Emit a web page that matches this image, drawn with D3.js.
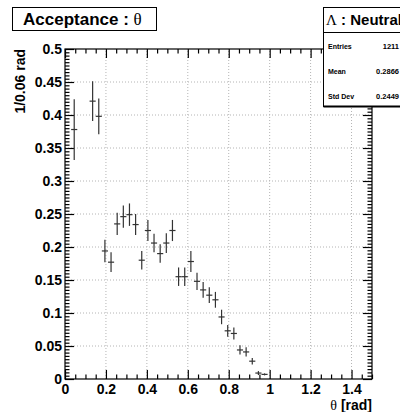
<!DOCTYPE html>
<html>
<head>
<meta charset="utf-8">
<script src="https://cdn.jsdelivr.net/npm/d3@7"></script>
<style>
  body { margin: 0; background: #fff; }
  svg text { font-family: "Liberation Sans", Arial, Helvetica, sans-serif; }
  .serif { font-family: "Liberation Serif", "DejaVu Serif", serif; font-weight: normal; }
</style>
</head>
<body>
<div id="chart"></div>
<script>
// bin centres (rad), bin width 0.03 -- empty bins are left out
const theta = [0.045, 0.135, 0.165, 0.195, 0.225, 0.255, 0.285, 0.315, 0.345, 0.375,
               0.405, 0.435, 0.465, 0.495, 0.525, 0.555, 0.585, 0.615, 0.645, 0.675,
               0.705, 0.735, 0.765, 0.795, 0.825, 0.855, 0.885, 0.915, 0.945, 0.975];
const acceptance = [0.378, 0.421, 0.398, 0.194, 0.177, 0.235, 0.246, 0.249, 0.234, 0.180,
                    0.225, 0.206, 0.190, 0.206, 0.225, 0.155, 0.155, 0.178, 0.148, 0.135,
                    0.127, 0.120, 0.094, 0.073, 0.069, 0.044, 0.041, 0.027, 0.009, 0.007];
const errors = [0.046, 0.030, 0.027, 0.017, 0.015, 0.017, 0.017, 0.017, 0.016, 0.014,
                0.016, 0.014, 0.014, 0.015, 0.016, 0.014, 0.014, 0.016, 0.013, 0.012,
                0.012, 0.012, 0.011, 0.009, 0.009, 0.007, 0.007, 0.005, 0.003, 0.0015];
const binWidth = 0.03;

const xTicks = [0, 0.2, 0.4, 0.6, 0.8, 1, 1.2, 1.4];
const yTicks = [0, 0.05, 0.1, 0.15, 0.2, 0.25, 0.3, 0.35, 0.4, 0.45, 0.5];
const statLabels = ["Entries", "Mean", "Std Dev"];
const statValues = ["1211", "0.2866", "0.2449"];

const W = 400, H = 412;
const svg = d3.select('#chart').append('svg')
  .attr('width', W).attr('height', H);

const x = d3.scaleLinear().domain([0, 1.5]).range([65, 372]);
const y = d3.scaleLinear().domain([0, 0.5]).range([379, 49]);

const fmt = d => String(+d.toFixed(2));
const xMinor = d3.range(0, 1.5001, 0.05).map(v => +v.toFixed(2)).filter(v => !xTicks.includes(v));
const yMinor = d3.range(0, 0.5001, 0.005).map(v => +v.toFixed(3)).filter(v => !yTicks.includes(v));

// grid
const grid = svg.append('g').attr('stroke', '#b4b4b4').attr('stroke-dasharray', '1,2').attr('stroke-width', 1);
xTicks.filter(v => v > 0).forEach(v => {
  grid.append('line').attr('x1', x(v)).attr('x2', x(v)).attr('y1', y(0)).attr('y2', y(0.5));
});
yTicks.filter(v => v > 0 && v < 0.5).forEach(v => {
  grid.append('line').attr('x1', x(0)).attr('x2', x(1.5)).attr('y1', y(v)).attr('y2', y(v));
});

// frame
svg.append('rect')
  .attr('x', x(0)).attr('y', y(0.5))
  .attr('width', x(1.5) - x(0)).attr('height', y(0) - y(0.5))
  .attr('fill', 'none').attr('stroke', '#000').attr('stroke-width', 1.2);

function styleAxis(g) {
  g.select('.domain').remove();
  g.selectAll('line').attr('stroke', '#000').attr('stroke-width', 1.2);
  g.selectAll('text').attr('font-size', 14).attr('font-weight', 'bold').attr('fill', '#000');
}

// bottom axis
svg.append('g').attr('transform', `translate(0,${y(0)})`)
  .call(d3.axisBottom(x).tickValues(xTicks).tickSize(-9).tickPadding(5).tickFormat(fmt))
  .call(styleAxis);
svg.append('g').attr('transform', `translate(0,${y(0)})`)
  .call(d3.axisBottom(x).tickValues(xMinor).tickSize(-4.5).tickFormat(''))
  .call(styleAxis);
// top axis
svg.append('g').attr('transform', `translate(0,${y(0.5)})`)
  .call(d3.axisTop(x).tickValues(xTicks).tickSize(-9).tickFormat(''))
  .call(styleAxis);
svg.append('g').attr('transform', `translate(0,${y(0.5)})`)
  .call(d3.axisTop(x).tickValues(xMinor).tickSize(-4.5).tickFormat(''))
  .call(styleAxis);
// left axis
svg.append('g').attr('transform', `translate(${x(0)},0)`)
  .call(d3.axisLeft(y).tickValues(yTicks).tickSize(-9).tickPadding(3).tickFormat(fmt))
  .call(styleAxis);
svg.append('g').attr('transform', `translate(${x(0)},0)`)
  .call(d3.axisLeft(y).tickValues(yMinor).tickSize(-4.5).tickFormat(''))
  .call(styleAxis);
// right axis
svg.append('g').attr('transform', `translate(${x(1.5)},0)`)
  .call(d3.axisRight(y).tickValues(yTicks).tickSize(-9).tickFormat(''))
  .call(styleAxis);
svg.append('g').attr('transform', `translate(${x(1.5)},0)`)
  .call(d3.axisRight(y).tickValues(yMinor).tickSize(-4.5).tickFormat(''))
  .call(styleAxis);

// data points with error bars
const pts = svg.append('g').attr('stroke', '#333').attr('stroke-width', 1.2);
theta.forEach((t, i) => {
  const v = acceptance[i], e = errors[i];
  pts.append('line')
    .attr('x1', x(t - binWidth / 2)).attr('x2', x(t + binWidth / 2))
    .attr('y1', y(v)).attr('y2', y(v));
  pts.append('line')
    .attr('x1', x(t)).attr('x2', x(t))
    .attr('y1', y(v - e)).attr('y2', y(v + e));
});

// axis titles
svg.append('text')
  .attr('transform', `translate(25,${y(0.5)}) rotate(-90)`)
  .attr('text-anchor', 'end').attr('font-size', 14).attr('font-weight', 'bold')
  .text('1/0.06 rad');

const xTitle = svg.append('text')
  .attr('x', x(1.5)).attr('y', 410)
  .attr('text-anchor', 'end').attr('font-size', 14).attr('font-weight', 'bold');
xTitle.append('tspan').attr('class', 'serif').text('θ');
xTitle.append('tspan').text(' [rad]');

// title box
svg.append('rect').attr('x', 12.5).attr('y', 7.5).attr('width', 144).attr('height', 23)
  .attr('fill', '#fff').attr('stroke', '#000').attr('stroke-width', 1);
const title = svg.append('text').attr('x', 23).attr('y', 25)
  .attr('font-size', 17).attr('font-weight', 'bold');
title.append('tspan').text('Acceptance : ');
title.append('tspan').attr('class', 'serif').text('θ');

// stats box (runs off the right edge, as in the original)
svg.append('rect').attr('x', 323.5).attr('y', 7.5).attr('width', 90).attr('height', 99)
  .attr('fill', '#fff').attr('stroke', '#000').attr('stroke-width', 1);
svg.append('line').attr('x1', 323.5).attr('x2', 400).attr('y1', 106.5).attr('y2', 106.5)
  .attr('stroke', '#000').attr('stroke-width', 2);
svg.append('line').attr('x1', 323.5).attr('x2', 400).attr('y1', 32.5).attr('y2', 32.5)
  .attr('stroke', '#000').attr('stroke-width', 1);
const stTitle = svg.append('text').attr('x', 326).attr('y', 25)
  .attr('font-size', 15).attr('font-weight', 'bold');
stTitle.append('tspan').attr('class', 'serif').text('Λ');
stTitle.append('tspan').text(' : Neutral');

statLabels.forEach((lab, i) => {
  const yy = 49 + i * 25;
  svg.append('text').attr('x', 328).attr('y', yy)
    .attr('font-size', 7).attr('font-weight', 'bold').text(lab);
  svg.append('text').attr('x', 399).attr('y', yy)
    .attr('text-anchor', 'end').attr('font-size', 7.5).attr('font-weight', 'bold').text(statValues[i]);
});
</script>
</body>
</html>
